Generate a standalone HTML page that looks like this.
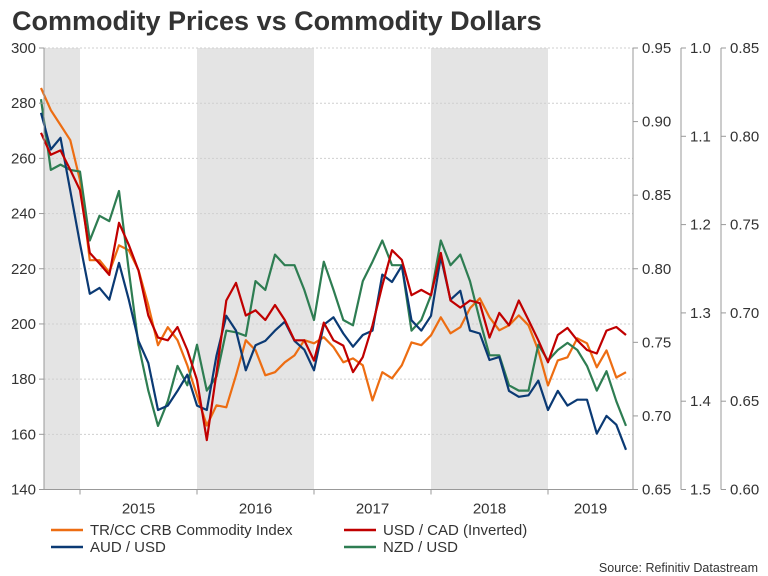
<!DOCTYPE html>
<html><head><meta charset="utf-8"><style>
body{margin:0;background:#fff;}
svg{display:block;font-family:"Liberation Sans",Arial,sans-serif;}
</style></head><body>
<svg id="chart" width="768" height="576" viewBox="0 0 768 576">
<text x="12" y="30" font-size="27" font-weight="bold" fill="#333">Commodity Prices vs Commodity Dollars</text>
<g id="bands"></g>
<g id="grid"></g>
<g id="series"></g>
<g id="axes"></g>
<g font-size="15" fill="#333">
<line x1="51" y1="530" x2="83" y2="530" stroke="#ed6d12" stroke-width="2.5"/>
<text x="90" y="535">TR/CC CRB Commodity Index</text>
<line x1="344" y1="530" x2="376" y2="530" stroke="#c00000" stroke-width="2.5"/>
<text x="383" y="535">USD / CAD (Inverted)</text>
<line x1="51" y1="547" x2="83" y2="547" stroke="#0b3a74" stroke-width="2.5"/>
<text x="90" y="552">AUD / USD</text>
<line x1="344" y1="547" x2="376" y2="547" stroke="#2e7d52" stroke-width="2.5"/>
<text x="383" y="552">NZD / USD</text>
</g>
<text x="758" y="572" font-size="12.5" fill="#333" text-anchor="end">Source: Refinitiv Datastream</text>
</svg>
<script>
const startYear = 2014.667; // monthly points, Sep 2014 .. Sep 2019
const crb = [285.5,277.5,272.1,266.6,252.1,223.1,223.1,218.7,228.5,226.7,219.5,206.8,192.3,198.8,194.1,185.0,174.1,163.2,170.5,169.8,181.4,194.1,190.5,181.4,182.5,186.1,188.6,194.1,193.0,195.2,191.6,186.1,187.5,185.0,172.3,182.5,180.3,185.0,193.3,192.3,195.9,202.4,196.6,198.8,205.7,209.3,202.4,197.7,199.5,203.1,199.5,190.4,177.7,186.8,187.9,194.8,193.0,184.3,190.4,180.6,182.5];
const usdcad = [1.096,1.121,1.116,1.138,1.161,1.232,1.244,1.257,1.198,1.223,1.252,1.303,1.328,1.331,1.316,1.342,1.376,1.444,1.368,1.286,1.266,1.303,1.297,1.308,1.291,1.308,1.331,1.331,1.354,1.311,1.331,1.337,1.367,1.350,1.314,1.269,1.229,1.240,1.280,1.274,1.280,1.232,1.286,1.294,1.286,1.289,1.328,1.300,1.314,1.286,1.308,1.331,1.356,1.325,1.317,1.331,1.342,1.346,1.320,1.316,1.325];
const audusd = [0.906,0.881,0.889,0.853,0.817,0.783,0.787,0.779,0.804,0.779,0.751,0.736,0.704,0.707,0.717,0.728,0.707,0.704,0.741,0.768,0.758,0.731,0.748,0.751,0.758,0.764,0.751,0.745,0.731,0.762,0.767,0.756,0.747,0.755,0.758,0.796,0.791,0.802,0.765,0.758,0.768,0.808,0.779,0.785,0.758,0.756,0.738,0.740,0.717,0.713,0.714,0.724,0.704,0.717,0.707,0.711,0.711,0.688,0.700,0.694,0.677];
const nzdusd = [0.821,0.781,0.784,0.781,0.780,0.741,0.755,0.752,0.769,0.724,0.682,0.656,0.636,0.650,0.670,0.659,0.682,0.656,0.664,0.690,0.689,0.687,0.718,0.713,0.733,0.727,0.727,0.713,0.696,0.729,0.713,0.696,0.693,0.718,0.729,0.741,0.727,0.727,0.690,0.696,0.710,0.741,0.727,0.733,0.718,0.696,0.676,0.676,0.659,0.656,0.656,0.682,0.673,0.679,0.683,0.679,0.670,0.656,0.667,0.650,0.636];
const leftTicks = [140,160,180,200,220,240,260,280,300];
const audTicks = ["0.65","0.70","0.75","0.80","0.85","0.90","0.95"];
const cadTicks = ["1.0","1.1","1.2","1.3","1.4","1.5"];
const nzdTicks = ["0.60","0.65","0.70","0.75","0.80","0.85"];
const yearLabels = ["2015","2016","2017","2018","2019"];
const shadedYears = [[2014.62,2015],[2016,2017],[2018,2019]];

const NS="http://www.w3.org/2000/svg";
const X0=44, X1=633, TOP=48, BOT=489.5;
const xScale = t => 80 + (t-2015)*117;
const yLeft = v => TOP + (300-v)/160*(BOT-TOP);
const yAud = v => TOP + (0.95-v)/0.30*(BOT-TOP);
const yCad = v => TOP + (v-1.0)/0.5*(BOT-TOP);
const yNzd = v => TOP + (0.85-v)/0.25*(BOT-TOP);
function mk(tag,attrs,parent,text){const e=document.createElementNS(NS,tag);for(const k in attrs)e.setAttribute(k,attrs[k]);if(text!==undefined)e.textContent=text;parent.appendChild(e);return e;}

const bands=document.getElementById('bands');
shadedYears.forEach(b=>{
  const r=mk('rect',{x:Math.max(X0,xScale(b[0])),y:TOP,width:xScale(b[1])-Math.max(X0,xScale(b[0])),height:BOT-TOP,fill:'#e4e4e4'},bands);
  
  
});
const grid=document.getElementById('grid');
const axes=document.getElementById('axes');
leftTicks.forEach(v=>{
  const y=yLeft(v);
  if(v>140){const g=mk('line',{x1:X0,y1:y,x2:X1,y2:y,stroke:'#cfcfcf','stroke-dasharray':'2,2'},grid);
  
  }
  mk('line',{x1:X0-5,y1:y,x2:X0,y2:y,stroke:'#999'},axes);
  const t=mk('text',{x:X0-8,y:y+5,'font-size':15,fill:'#333','text-anchor':'end'},axes,String(v));
  
  
});
mk('line',{x1:X0,y1:TOP,x2:X0,y2:BOT,stroke:'#999'},axes);
mk('line',{x1:X0,y1:BOT,x2:X1,y2:BOT,stroke:'#999'},axes);
[2015,2016,2017,2018,2019].forEach(yr=>{mk('line',{x1:xScale(yr),y1:BOT,x2:xScale(yr),y2:BOT+5,stroke:'#999'},axes);});
yearLabels.forEach((lab,i)=>{
  const yr=2015+i; const cx=i<4?xScale(yr+0.5):(xScale(2019)+X1)/2;
  const t=mk('text',{x:cx,y:BOT+24,'font-size':15,fill:'#333','text-anchor':'middle'},axes,lab);
  
  
});
function rightAxis(ax,ticks,yf){
  mk('line',{x1:ax,y1:TOP,x2:ax,y2:BOT,stroke:'#999'},axes);
  ticks.forEach(s=>{const y=yf(parseFloat(s));
    mk('line',{x1:ax,y1:y,x2:ax+5,y2:y,stroke:'#999'},axes);
    const t=mk('text',{x:ax+9,y:y+5,'font-size':15,fill:'#333'},axes,s);
    
    
  });
}
rightAxis(X1,audTicks,yAud);
rightAxis(681,cadTicks,yCad);
rightAxis(721,nzdTicks,yNzd);

const series=document.getElementById('series');
function line(arr,yf,color,name){
  const pts=arr.map((v,i)=>xScale(startYear+i/12).toFixed(1)+','+yf(v).toFixed(1)).join(' ');
  const p=mk('polyline',{points:pts,fill:'none',stroke:color,'stroke-width':2.2,'stroke-linejoin':'round'},series);
  
  
}
line(crb,yLeft,'#ed6d12','crb-line');
line(nzdusd,yNzd,'#2e7d52','nzdusd-line');
line(audusd,yAud,'#0b3a74','audusd-line');
line(usdcad,yCad,'#c00000','usdcad-line');
</script>
</body></html>
